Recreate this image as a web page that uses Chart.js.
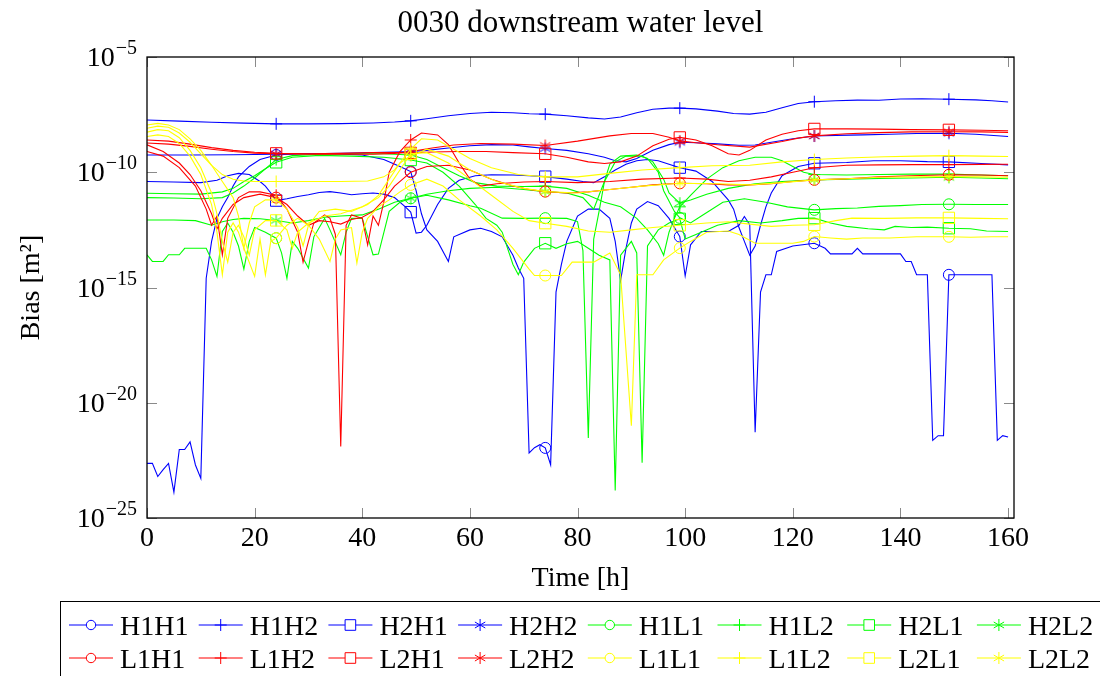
<!DOCTYPE html>
<html>
<head>
<meta charset="utf-8">
<script src="https://cdn.jsdelivr.net/npm/chart.js@4.4.1/dist/chart.umd.min.js"></script>
<style>
  html, body { margin: 0; padding: 0; background: #fff; }
  #wrap { width: 1100px; height: 676px; }
</style>
</head>
<body>
<div id="wrap"><canvas id="biasChart"></canvas></div>
<script>
// --- DATOS: [hora, sesgo] ---
const H1H1 = [[0,2.34e-23],[1,2.34e-23],[2,6.31e-24],[3,1.26e-23],[4,2.34e-23],[5,1.32e-24],[6,9.33e-23],[7,9.33e-23],[8,2.0e-22],[9,2.0e-23],[10,5.25e-24],
  [11,2.51e-15],[12,1e-13],[13,1e-12],[14,3.16e-12],[15,7.94e-12],[16,2.51e-11],[17,6.31e-11],[19,1.78e-10],[21,3.55e-10],[24,5.62e-10],[28,6.31e-10],[34,6.31e-10],
  [40,5.62e-10],[44,3.55e-10],[47,1.78e-10],[49,1.07e-10],[50,1.58e-11],[51,1.58e-12],[52,3.16e-13],[54,1e-13],[56,1.35e-14],[57,1.58e-13],[60,3.16e-13],[62,3.72e-13],
  [64,2.69e-13],[66,1.58e-13],[68,2.51e-14],[69,7.08e-15],[70,2.51e-15],[71,6.61e-23],[72,1.12e-22],[73,1.51e-22],[74,1.1e-22],[75,2.04e-23],[76,6.31e-16],[77,1e-14],
  [78,1e-13],[80,1.26e-12],[82,2.51e-12],[84,2.51e-12],[86,1e-12],[87,1e-13],[88,2.0e-15],[89,5.01e-14],[90,6.31e-13],[91,2.51e-12],[93,5.37e-12],[95,3.55e-12],
  [97,1e-12],[99,1.62e-13],[100,3.16e-15],[101,7.08e-14],[103,2.69e-13],[108,2.69e-13],[110,5.01e-13],[111,1.2e-12],[112,5.25e-13],[113,5.25e-22],[114,6.31e-16],
  [115,3.55e-15],[116,3.55e-15],[117,3.63e-14],[120,6.31e-14],[124,8.32e-14],[126,5.01e-14],[127,2.88e-14],[131,2.88e-14],[132,5.01e-14],[133,2.88e-14],[140,2.88e-14],
  [141,1.35e-14],[142,1.35e-14],[143,3.55e-15],[145,3.55e-15],[146,2.34e-22],[147,3.72e-22],[148,3.72e-22],[149,3.55e-15],[157,3.55e-15],[158,2.34e-22],[159,3.72e-22],[160,3.24e-22]];
const H1H2 = [[0,1.86e-8],[6,1.66e-8],[12,1.48e-8],[18,1.35e-8],[24,1.26e-8],[30,1.26e-8],[36,1.29e-8],[42,1.38e-8],[46,1.51e-8],[49,1.7e-8],[52,2.09e-8],[56,2.82e-8],
  [60,3.55e-8],[64,3.98e-8],[68,3.8e-8],[71,3.47e-8],[74,3.31e-8],[78,2.82e-8],[82,2.29e-8],[85,2.04e-8],[88,2.51e-8],[91,3.8e-8],[94,5.37e-8],[97,6.03e-8],[99,6.03e-8],
  [102,5.62e-8],[106,4.47e-8],[109,3.55e-8],[112,3.31e-8],[115,3.98e-8],[118,6.31e-8],[121,9.55e-8],[124,1.15e-7],[128,1.26e-7],[132,1.35e-7],[136,1.32e-7],[140,1.51e-7],
  [144,1.55e-7],[149,1.48e-7],[154,1.38e-7],[157,1.26e-7],[160,1.12e-7]];
const H2H1 = [[0,3.98e-11],[5,3.8e-11],[10,3.55e-11],[13,4.47e-11],[15,7.08e-11],[17,8.91e-11],[19,7.94e-11],[21,3.98e-11],[22,2.51e-11],[23,1.26e-11],[24,5.89e-12],
  [26,7.08e-12],[28,8.91e-12],[30,1.05e-11],[32,1.32e-11],[34,1.45e-11],[36,1.26e-11],[38,1.05e-11],[40,1.17e-11],[42,1.26e-11],[44,1.12e-11],[46,7.94e-12],[48,3.16e-12],
  [49,1.86e-12],[50,2.29e-13],[51,2.51e-13],[52,5.01e-13],[54,3.98e-12],[56,2.0e-11],[58,4.47e-11],[61,7.08e-11],[64,7.76e-11],[68,7.59e-11],[71,7.08e-11],[74,6.46e-11],
  [78,5.01e-11],[81,3.98e-11],[83,3.55e-11],[85,6.31e-11],[87,1.26e-10],[89,2.24e-10],[91,3.16e-10],[93,3.55e-10],[95,3.16e-10],[97,2.24e-10],[99,1.58e-10],[102,1.12e-10],
  [105,3.98e-11],[108,6.31e-12],[109,2.51e-12],[110,3.98e-13],[111,1e-13],[112,2.51e-14],[113,6.31e-14],[114,5.01e-13],[115,3.16e-12],[116,1.26e-11],[118,7.08e-11],
  [121,1.78e-10],[124,2.45e-10],[130,2.63e-10],[135,3.16e-10],[140,3.16e-10],[145,2.88e-10],[149,2.82e-10],[155,2.4e-10],[160,2.09e-10]];
const H2H2 = [[0,5.62e-10],[8,5.62e-10],[16,5.75e-10],[24,6.03e-10],[30,6.31e-10],[36,6.61e-10],[42,7.08e-10],[46,7.59e-10],[49,7.94e-10],[52,8.91e-10],[56,1.12e-9],
  [60,1.41e-9],[64,1.58e-9],[68,1.51e-9],[71,1.26e-9],[74,1.07e-9],[78,8.91e-10],[82,6.31e-10],[85,4.47e-10],[87,3.16e-10],[89,2.82e-10],[91,3.98e-10],[94,8.91e-10],
  [97,1.58e-9],[99,2.0e-9],[102,1.91e-9],[106,1.7e-9],[110,1.48e-9],[113,1.51e-9],[116,2.0e-9],[120,2.82e-9],[124,3.72e-9],[128,3.98e-9],[133,4.17e-9],[138,4.47e-9],
  [143,4.79e-9],[149,4.9e-9],[154,4.47e-9],[160,3.55e-9]];
const H1L1 = [[0,2.63e-14],[1,1.35e-14],[3,1.35e-14],[4,2.63e-14],[6,2.63e-14],[7,5.01e-14],[11,5.01e-14],[12,1.58e-14],[13,3.02e-15],[14,2.69e-13],[15,6.31e-13],
  [16,2.51e-13],[17,6.31e-14],[18,6.31e-15],[19,1e-13],[20,3.98e-13],[22,2.51e-13],[24,1.38e-13],[25,3.16e-14],[26,2.51e-15],[27,1e-13],[28,5.01e-14],[30,6.92e-15],
  [31,1.58e-13],[33,1e-12],[34,3.16e-13],[36,2.63e-14],[37,2.51e-13],[38,1e-12],[40,1e-12],[42,2.63e-14],[43,2.82e-14],[45,2.0e-12],[47,5.01e-12],[49,7.41e-12],
  [52,1e-11],[56,6.31e-12],[60,3.55e-12],[62,2.75e-12],[66,1.02e-12],[70,1e-12],[74,1.02e-12],[78,1e-12],[80,7.24e-13],[81,3.98e-14],[82,2.95e-22],[83,1.26e-13],
  [84,2.0e-12],[85,3.98e-11],[86,2.24e-10],[88,5.01e-10],[91,5.62e-10],[93,3.98e-10],[95,1e-10],[96,1.58e-11],[98,2.0e-12],[99,1.05e-12],[101,6.31e-13],[103,1.26e-12],
  [107,5.01e-12],[111,7.08e-12],[115,5.01e-12],[119,3.16e-12],[124,2.34e-12],[128,2.63e-12],[132,2.82e-12],[136,3.31e-12],[140,3.55e-12],[144,3.98e-12],[149,4.07e-12],
  [154,3.98e-12],[160,3.98e-12]];
const H1L2 = [[0,7.94e-12],[5,7.59e-12],[10,7.08e-12],[14,7.94e-12],[16,1.26e-11],[18,2.51e-11],[20,5.62e-11],[22,1.41e-10],[24,3.55e-10],[27,5.25e-10],[32,6.03e-10],
  [38,6.31e-10],[44,6.31e-10],[49,5.62e-10],[52,3.55e-10],[55,1.58e-10],[58,7.08e-11],[61,3.55e-11],[65,2.51e-11],[70,2.4e-11],[74,2.51e-11],[78,2.0e-11],[82,1e-11],
  [85,5.01e-12],[88,3.16e-12],[91,1e-12],[93,3.16e-13],[95,7.94e-14],[96,2.51e-14],[97,2.51e-13],[98,1e-12],[99,3.16e-12],[101,1e-11],[104,5.01e-11],[107,1.58e-10],
  [110,3.16e-10],[113,4.47e-10],[116,4.47e-10],[118,3.16e-10],[120,1.78e-10],[122,1e-10],[124,7.94e-11],[130,7.59e-11],[136,7.94e-11],[142,8.32e-11],[149,8.32e-11],
  [155,7.59e-11],[160,7.08e-11]];
const H2L1 = [[0,1.23e-11],[5,1.17e-11],[10,1.12e-11],[14,1.41e-11],[16,2.0e-11],[18,3.98e-11],[20,7.08e-11],[22,1.41e-10],[24,2.69e-10],[27,4.47e-10],[32,5.37e-10],
  [38,5.01e-10],[44,4.47e-10],[49,3.39e-10],[52,2.51e-10],[55,1e-10],[58,2.51e-11],[61,3.98e-12],[63,1e-12],[65,5.01e-13],[66,2.51e-13],[67,5.01e-14],[68,1e-14],
  [69,3.55e-15],[70,1.26e-14],[72,5.01e-14],[74,8.32e-14],[76,5.01e-14],[78,7.94e-14],[80,1e-13],[82,5.01e-14],[84,2.51e-14],[86,1.58e-14],[87,1.58e-24],[88,2.51e-14],
  [90,1e-13],[91,3.16e-14],[92,2.51e-23],[93,6.31e-14],[95,3.16e-13],[97,6.31e-13],[99,9.55e-13],[100,1.26e-13],[102,2.0e-13],[106,5.01e-13],[110,7.94e-13],[114,6.31e-13],
  [118,7.94e-13],[121,1e-12],[124,1.02e-12],[127,6.31e-13],[130,4.47e-13],[134,3.55e-13],[137,3.16e-13],[139,4.47e-13],[142,3.98e-13],[145,4.17e-13],[149,3.72e-13],
  [153,3.55e-13],[156,2.82e-13],[160,2.69e-13]];
const H2L2 = [[0,8.51e-13],[5,8.51e-13],[9,7.94e-13],[12,5.01e-13],[14,7.08e-13],[16,8.91e-13],[18,1e-12],[21,9.55e-13],[24,8.13e-13],[27,6.31e-13],[30,7.94e-13],
  [33,1.12e-12],[36,1.26e-12],[40,1.41e-12],[43,2.51e-12],[46,5.01e-12],[49,7.41e-12],[52,1.12e-11],[56,1.58e-11],[60,2.0e-11],[65,2.24e-11],[70,1.78e-11],[74,1.45e-11],
  [78,1.26e-11],[81,7.94e-12],[83,2.51e-12],[84,1e-11],[85,3.98e-11],[87,2.82e-10],[89,5.01e-10],[92,5.01e-10],[94,2.82e-10],[96,5.01e-11],[97,1.26e-11],[99,4.57e-12],
  [101,6.31e-12],[104,1.12e-11],[108,2.0e-11],[113,3.16e-11],[118,3.98e-11],[124,4.68e-11],[130,5.01e-11],[136,5.37e-11],[142,5.62e-11],[149,6.03e-11],[155,5.62e-11],
  [160,5.25e-11]];
const L1H1 = [[0,1.55e-9],[3,7.94e-10],[6,2.51e-10],[8,7.94e-11],[10,1.58e-11],[12,1.58e-12],[13,3.47e-13],[14,1e-12],[16,3.98e-12],[18,7.94e-12],[21,1.12e-11],
  [24,7.94e-12],[26,3.98e-12],[28,1.26e-12],[30,5.01e-13],[32,7.94e-13],[34,7.08e-13],[36,5.62e-13],[38,8.91e-13],[40,1.12e-12],[42,2.0e-12],[44,6.31e-12],[46,2.51e-11],
  [48,6.31e-11],[49,1e-10],[52,1.78e-10],[56,2.0e-10],[60,1.26e-10],[64,5.01e-11],[68,2.51e-11],[71,1.78e-11],[74,1.45e-11],[78,1.26e-11],[82,1.41e-11],[86,1.78e-11],
  [90,2.24e-11],[94,2.82e-11],[99,3.31e-11],[104,3.16e-11],[108,2.82e-11],[112,2.82e-11],[116,3.16e-11],[120,3.98e-11],[124,4.68e-11],[130,5.25e-11],[136,6.31e-11],
  [142,7.08e-11],[149,7.76e-11],[155,7.59e-11],[160,7.08e-11]];
const L1H2 = [[0,7.94e-10],[3,5.01e-10],[6,1.58e-10],[9,2.51e-11],[11,2.51e-12],[12,5.01e-13],[13,1.26e-12],[14,2.63e-14],[15,1e-12],[17,7.94e-12],[19,1.41e-11],
  [21,1.41e-11],[24,1e-11],[26,2.51e-12],[28,2.51e-13],[29,1.26e-14],[30,1e-13],[31,6.31e-13],[33,1.41e-12],[34,1e-12],[35,2.0e-13],[36,1.26e-22],[37,5.01e-13],
  [38,1.41e-12],[40,1e-12],[41,7.08e-14],[42,1.26e-12],[43,5.01e-13],[44,5.01e-12],[45,1e-10],[47,7.94e-10],[49,2.51e-9],[51,5.01e-9],[54,4.17e-9],[56,1.58e-9],
  [58,2.51e-10],[60,5.01e-11],[62,2.51e-11],[65,3.16e-11],[70,3.8e-11],[74,3.98e-11],[80,3.55e-11],[86,3.98e-11],[92,5.01e-11],[99,5.62e-11],[104,5.01e-11],[108,3.98e-11],
  [112,4.47e-11],[116,6.31e-11],[120,1e-10],[124,1.58e-10],[130,2.0e-10],[136,2.09e-10],[142,2.14e-10],[149,2.14e-10],[155,2.19e-10],[160,2.24e-10]];
const L2H1 = [[0,2.51e-9],[4,2.24e-9],[8,1.66e-9],[12,1.17e-9],[16,8.91e-10],[20,7.41e-10],[24,6.61e-10],[30,6.31e-10],[36,6.61e-10],[42,7.08e-10],[46,7.08e-10],
  [49,6.92e-10],[53,7.59e-10],[58,7.94e-10],[63,7.94e-10],[68,7.08e-10],[74,6.31e-10],[78,4.47e-10],[82,2.82e-10],[85,2.4e-10],[88,2.82e-10],[91,5.01e-10],[94,1.41e-9],
  [97,2.69e-9],[99,3.24e-9],[102,2.51e-9],[105,1.41e-9],[108,6.31e-10],[110,5.62e-10],[112,8.91e-10],[115,2.51e-9],[118,4.47e-9],[121,6.31e-9],[124,7.59e-9],[130,7.59e-9],
  [136,7.41e-9],[142,7.08e-9],[149,6.92e-9],[155,6.61e-9],[160,6.31e-9]];
const L2H2 = [[0,1.86e-9],[4,1.66e-9],[8,1.32e-9],[12,1e-9],[16,7.94e-10],[20,6.76e-10],[24,6.31e-10],[30,6.03e-10],[36,6.03e-10],[42,6.03e-10],[46,6.61e-10],
  [49,7.94e-10],[53,1.12e-9],[57,1.51e-9],[62,1.78e-9],[68,1.66e-9],[74,1.45e-9],[80,2.24e-9],[86,3.8e-9],[90,4.79e-9],[94,4.79e-9],[97,3.31e-9],[99,2.29e-9],[102,1.91e-9],
  [106,1.55e-9],[112,1.23e-9],[118,2.14e-9],[121,3.02e-9],[124,3.8e-9],[130,4.68e-9],[136,5.25e-9],[142,5.62e-9],[149,5.75e-9],[155,5.62e-9],[160,5.37e-9]];
const L1L1 = [[0,3.55e-9],[2,4.17e-9],[4,3.55e-9],[6,1.78e-9],[8,5.01e-10],[10,7.94e-11],[12,3.98e-12],[13,2.51e-13],[14,3.55e-15],[15,2.51e-13],[16,6.31e-13],
  [17,2.51e-13],[18,5.01e-14],[20,3.02e-15],[21,1.26e-13],[22,3.55e-15],[23,1e-13],[24,1.38e-13],[26,5.01e-13],[28,1e-12],[30,5.01e-13],[32,1.26e-13],[34,1.35e-14],
  [35,1.26e-13],[36,3.16e-13],[38,3.98e-13],[39,1.15e-14],[40,2.51e-13],[41,1e-12],[43,3.16e-12],[45,6.31e-12],[47,1.41e-11],[49,2.82e-11],[52,5.01e-11],[55,2.51e-11],
  [58,6.31e-12],[62,1.26e-12],[65,3.16e-13],[68,5.01e-14],[71,6.31e-15],[72,3.31e-15],[74,3.31e-15],[77,3.31e-15],[79,1.26e-14],[83,1.26e-14],[86,3.16e-14],[88,3.55e-15],
  [90,1e-21],[91,3.55e-15],[94,3.55e-15],[96,1.58e-14],[99,5.13e-14],[101,1e-13],[104,2.51e-13],[108,2.82e-13],[110,2.0e-13],[113,8.32e-14],[120,8.32e-14],[122,1e-13],
  [124,1.62e-13],[127,1.41e-13],[130,1.26e-13],[133,1.41e-13],[138,1.41e-13],[143,1.58e-13],[149,1.58e-13],[153,1.51e-13],[157,1.58e-13],[160,1.58e-13]];
const L1L2 = [[0,8.13e-9],[2,1e-8],[4,8.91e-9],[6,5.01e-9],[8,2.0e-9],[10,6.31e-10],[12,2.0e-10],[14,7.94e-11],[16,5.01e-11],[18,4.17e-11],[20,3.98e-11],[24,3.98e-11],
  [30,3.98e-11],[36,3.98e-11],[41,4.17e-11],[44,6.31e-11],[46,1.26e-10],[48,5.01e-10],[49,1e-9],[51,2.82e-9],[54,2.51e-9],[57,1e-9],[60,3.98e-10],[64,1.58e-10],
  [69,7.94e-11],[74,6.31e-11],[80,6.31e-11],[86,8.91e-11],[92,1.26e-10],[99,1.58e-10],[105,1.91e-10],[112,2.0e-10],[118,2.82e-10],[124,3.55e-10],[130,4.17e-10],
  [137,4.68e-10],[143,5.01e-10],[149,5.25e-10],[155,5.01e-10],[160,4.79e-10]];
const L2L1 = [[0,5.5e-9],[2,7.08e-9],[4,6.31e-9],[6,3.16e-9],[8,8.91e-10],[10,1.58e-10],[12,1.26e-11],[13,1.58e-12],[14,1e-13],[15,1.26e-14],[16,2.51e-13],[17,5.01e-13],
  [18,1.58e-13],[19,2.51e-14],[20,3.16e-13],[22,7.94e-13],[24,8.13e-13],[26,3.16e-13],[27,5.01e-14],[28,2.51e-13],[30,6.31e-13],[33,1.26e-12],[36,1.58e-12],[40,3.16e-12],
  [43,7.94e-12],[45,2.51e-11],[47,1.26e-10],[49,6.31e-10],[52,7.08e-10],[56,2.51e-10],[60,5.01e-11],[64,1e-11],[68,2.0e-12],[71,7.94e-13],[74,6.17e-13],[78,4.47e-13],
  [82,2.82e-13],[86,2.51e-13],[90,3.16e-13],[94,3.98e-13],[99,5.01e-13],[104,6.31e-13],[108,7.08e-13],[112,5.62e-13],[116,4.47e-13],[120,5.01e-13],[124,5.25e-13],
  [128,7.94e-13],[131,1.02e-12],[137,1e-12],[143,1.05e-12],[149,1.05e-12],[155,1e-12],[160,9.55e-13]];
const L2L2 = [[0,1.12e-8],[2,1.32e-8],[4,1.12e-8],[6,7.08e-9],[8,2.82e-9],[10,8.91e-10],[12,2.0e-10],[14,3.98e-11],[16,7.94e-12],[17,1.26e-12],[18,5.01e-14],
  [19,6.31e-13],[20,3.16e-12],[22,6.31e-12],[24,6.31e-12],[26,2.51e-12],[28,3.98e-13],[29,6.31e-14],[30,5.01e-13],[32,2.0e-12],[35,2.51e-12],[38,2.0e-12],[41,3.98e-12],
  [43,1e-11],[45,5.01e-11],[47,2.51e-10],[49,5.01e-10],[52,1e-9],[56,5.01e-10],[60,1.26e-10],[65,3.98e-11],[70,2.0e-11],[74,1.45e-11],[80,1.26e-11],[86,1.78e-11],
  [92,2.51e-11],[99,3.31e-11],[106,3.16e-11],[112,2.82e-11],[118,3.55e-11],[124,4.68e-11],[130,5.25e-11],[136,6.03e-11],[142,6.31e-11],[149,6.46e-11],[155,6.31e-11],
  [160,6.03e-11]];

const seriesNames = ['H1H1','H1H2','H2H1','H2H2','H1L1','H1L2','H2L1','H2L2','L1H1','L1H2','L2H1','L2H2','L1L1','L1L2','L2L1','L2L2'];
const seriesData = [H1H1,H1H2,H2H1,H2H2,H1L1,H1L2,H2L1,H2L2,L1H1,L1H2,L2H1,L2H2,L1L1,L1L2,L2L1,L2L2];
const seriesColors = ['#0000ff','#0000ff','#0000ff','#0000ff','#00ff00','#00ff00','#00ff00','#00ff00',
                      '#ff0000','#ff0000','#ff0000','#ff0000','#ffff00','#ffff00','#ffff00','#ffff00'];
const seriesMarks = ['o','+','s','*','o','+','s','*','o','+','s','*','o','+','s','*'];
const markHours = [24, 49, 74, 99, 124, 149];
const xTicks = [0, 20, 40, 60, 80, 100, 120, 140, 160];
const yTicks = [1e-25, 1e-20, 1e-15, 1e-10, 1e-5];
const yTickExp = ['\u221225', '\u221220', '\u221215', '\u221210', '\u22125'];

const SERIF = '"Liberation Serif", "DejaVu Serif", serif';
const TICK_LEN = 10;

// asterisco de 6 brazos como pointStyle (canvas)
function asterisco(color, r) {
    const c = document.createElement('canvas');
    const s = Math.ceil(2 * r + 2);
    c.width = s; c.height = s;
    const g = c.getContext('2d');
    g.strokeStyle = color;
    g.lineWidth = 1;
    g.translate(s / 2, s / 2);
    g.beginPath();
    for (let k = 0; k < 3; k++) {
        const a = Math.PI / 2 + k * Math.PI / 3;
        g.moveTo(r * Math.cos(a), r * Math.sin(a));
        g.lineTo(-r * Math.cos(a), -r * Math.sin(a));
    }
    g.stroke();
    return c;
}

function estiloMarca(m, color) {
    if (m === 'o') return { style: 'circle', r: 5.5 };
    if (m === '+') return { style: 'cross', r: 6 };
    if (m === 's') return { style: 'rect', r: 8 };
    return { style: asterisco(color, 6), r: 6 };
}

const datasets = seriesData.map((serie, i) => {
    const mk = estiloMarca(seriesMarks[i], seriesColors[i]);
    return {
        label: seriesNames[i],
        data: serie.map(p => ({ x: p[0], y: p[1] })),
        borderColor: seriesColors[i],
        borderWidth: 1.1,
        backgroundColor: 'rgba(0,0,0,0)',
        pointStyle: mk.style,
        pointBorderColor: seriesColors[i],
        pointBackgroundColor: 'rgba(0,0,0,0)',
        pointBorderWidth: 1,
        pointRadius: ctx => (ctx.raw && markHours.includes(ctx.raw.x)) ? mk.r : 0,
        tension: 0,
        fill: false,
        order: seriesData.length - i
    };
});

// --- marco, ticks hacia dentro, etiquetas log, titulo y leyenda ---
const marcoPlugin = {
    id: 'marco',
    afterDatasetsDraw(chart) {
        const ctx = chart.ctx;
        const a = chart.chartArea;
        const sx = chart.scales.x, sy = chart.scales.y;
        ctx.save();

        // ticks grises hacia dentro en los cuatro lados
        ctx.strokeStyle = '#8a8a8a';
        ctx.lineWidth = 1;
        ctx.beginPath();
        xTicks.forEach(v => {
            const px = Math.round(sx.getPixelForValue(v)) + 0.5;
            ctx.moveTo(px, a.bottom); ctx.lineTo(px, a.bottom - TICK_LEN);
            ctx.moveTo(px, a.top); ctx.lineTo(px, a.top + TICK_LEN);
        });
        yTicks.forEach(v => {
            const py = Math.round(sy.getPixelForValue(v)) + 0.5;
            ctx.moveTo(a.left, py); ctx.lineTo(a.left + TICK_LEN, py);
            ctx.moveTo(a.right, py); ctx.lineTo(a.right - TICK_LEN, py);
        });
        ctx.stroke();

        // marco negro
        ctx.strokeStyle = '#000';
        ctx.lineWidth = 1.3;
        ctx.strokeRect(a.left, a.top, a.right - a.left, a.bottom - a.top);

        // etiquetas 10^n
        ctx.fillStyle = '#000';
        ctx.textBaseline = 'alphabetic';
        ctx.textAlign = 'right';
        yTicks.forEach((v, i) => {
            const py = sy.getPixelForValue(v);
            ctx.font = '20px ' + SERIF;
            const wExp = ctx.measureText(yTickExp[i]).width;
            ctx.fillText(yTickExp[i], 137, py - 3);
            ctx.font = '28px ' + SERIF;
            ctx.fillText('10', 137 - wExp - 1, py + 9);
        });

        // titulo
        ctx.textAlign = 'center';
        ctx.font = '31px ' + SERIF;
        ctx.fillText('0030 downstream water level', (a.left + a.right) / 2, 32);

        // leyenda
        ctx.strokeStyle = '#000';
        ctx.lineWidth = 1;
        ctx.strokeRect(60.5, 601.5, 1100, 120);
        const filas = [625, 658];
        ctx.textAlign = 'left';
        ctx.font = '28px ' + SERIF;
        seriesNames.forEach((name, i) => {
            const fila = Math.floor(i / 8), col = i % 8;
            const x0 = 69 + col * 129.7;
            const y0 = filas[fila];
            const color = seriesColors[i];
            ctx.strokeStyle = color;
            ctx.lineWidth = 1.1;
            ctx.beginPath();
            ctx.moveTo(x0, y0); ctx.lineTo(x0 + 44, y0);
            ctx.stroke();
            dibujarMarca(ctx, seriesMarks[i], color, x0 + 22, y0);
            ctx.fillStyle = '#000';
            ctx.fillText(name, x0 + 51, y0 + 10);
        });
        ctx.restore();
    }
};

function dibujarMarca(ctx, m, color, x, y) {
    ctx.save();
    ctx.strokeStyle = color;
    ctx.lineWidth = 1;
    ctx.beginPath();
    if (m === 'o') {
        ctx.arc(x, y, 4.7, 0, Math.PI * 2);
        ctx.fillStyle = '#fff';
        ctx.fill();
    } else if (m === '+') {
        ctx.moveTo(x - 6, y); ctx.lineTo(x + 6, y);
        ctx.moveTo(x, y - 6); ctx.lineTo(x, y + 6);
    } else if (m === 's') {
        ctx.fillStyle = '#fff';
        ctx.rect(x - 5.3, y - 5.3, 10.6, 10.6);
        ctx.fill();
    } else {
        for (let k = 0; k < 3; k++) {
            const ang = Math.PI / 2 + k * Math.PI / 3;
            ctx.moveTo(x + 6 * Math.cos(ang), y + 6 * Math.sin(ang));
            ctx.lineTo(x - 6 * Math.cos(ang), y - 6 * Math.sin(ang));
        }
    }
    ctx.stroke();
    ctx.restore();
}

const ctx = document.getElementById('biasChart').getContext('2d');
const grafica = new Chart(ctx, {
    type: 'line',
    data: { datasets: datasets },
    options: {
        responsive: true,
        maintainAspectRatio: false,
        animation: false,
        events: [],
        layout: { padding: { top: 57, right: 86, bottom: 0, left: 0 } },
        plugins: { legend: { display: false }, tooltip: { enabled: false } },
        scales: {
            x: {
                type: 'linear', min: 0, max: 161.1,
                afterBuildTicks: s => { s.ticks = xTicks.map(v => ({ value: v })); },
                afterFit: s => { s.height = 158; },
                grid: { display: false, drawTicks: false },
                border: { display: false },
                ticks: { color: '#000', font: { family: SERIF, size: 28 }, padding: 4, maxRotation: 0, autoSkip: false },
                title: { display: true, text: 'Time [h]', color: '#000', font: { family: SERIF, size: 28 }, padding: { top: 0, bottom: 81 } }
            },
            y: {
                type: 'logarithmic', min: 1e-25, max: 1e-5,
                afterBuildTicks: s => { s.ticks = yTicks.map(v => ({ value: v })); },
                afterFit: s => { s.width = 147; },
                grid: { display: false, drawTicks: false },
                border: { display: false },
                ticks: { display: false },
                title: { display: true, text: 'Bias [m\u00b2]', color: '#000', font: { family: SERIF, size: 28 }, padding: { top: 15, bottom: 0 } }
            }
        }
    },
    plugins: [marcoPlugin]
});
</script>
</body>
</html>
